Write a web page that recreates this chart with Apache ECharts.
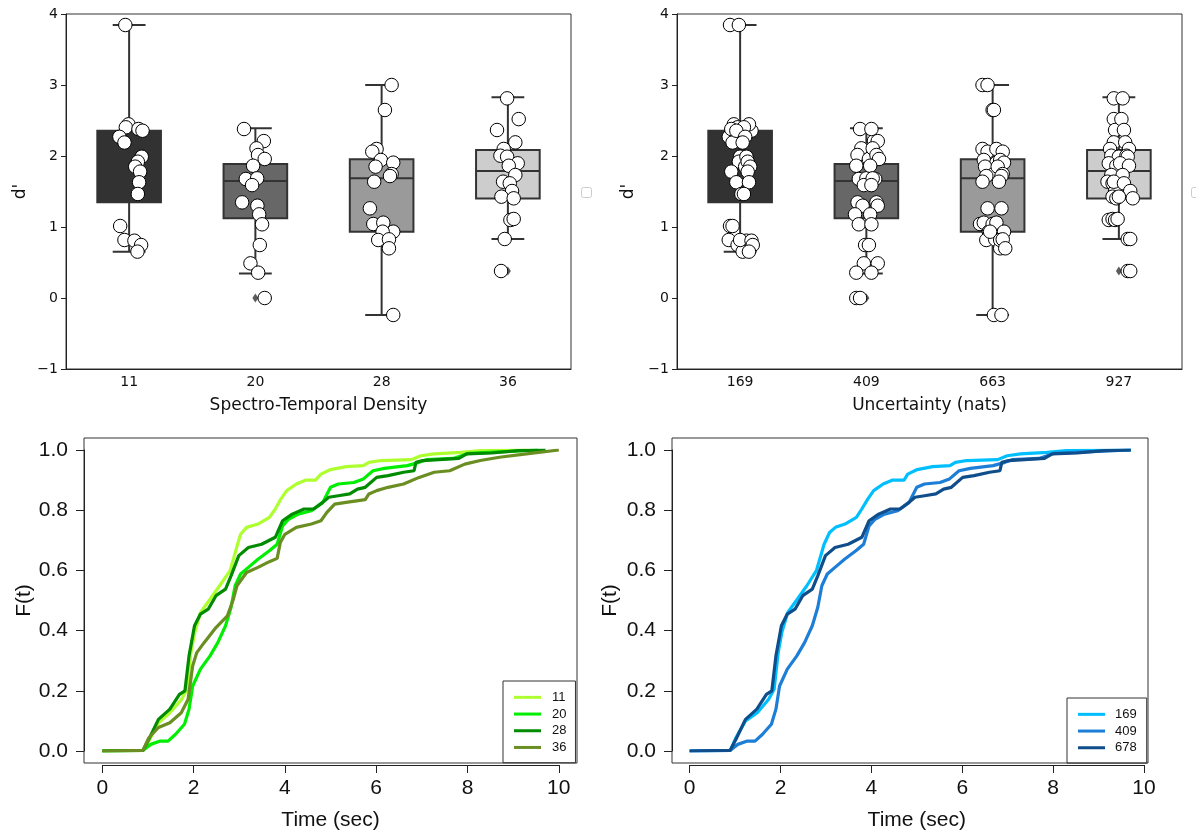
<!DOCTYPE html>
<html><head><meta charset="utf-8">
<script src="https://cdn.jsdelivr.net/npm/echarts@6/dist/echarts.min.js"></script>
<style>html,body{margin:0;padding:0;background:#fff}#c{width:1196px;height:834px}</style>
</head><body><div id="c"></div><script>
// ---------- Top panels: box + strip plots ----------
const catsDensity = ['11', '20', '28', '36'];
const catsUncert = ['169', '409', '663', '927'];
// box stats per category: [min whisker, Q1, median, Q3, max whisker]
const boxDensity = [
  [0.65, 1.35, 1.89, 2.355, 3.845],
  [0.345, 1.122, 1.647, 1.887, 2.39],
  [-0.239, 0.934, 1.688, 1.953, 3.0],
  [0.831, 1.402, 1.788, 2.085, 2.826]
];
const boxUncert = [
  [0.65, 1.35, 1.89, 2.355, 3.845],
  [0.345, 1.122, 1.647, 1.887, 2.39],
  [-0.239, 0.934, 1.688, 1.953, 3.0],
  [0.831, 1.402, 1.788, 2.085, 2.826]
];
// outliers (category index, value)
const flierCats = [1, 3];
const flierVals = [0.0, 0.38];
// subject d' values per category
const dp11 = [3.845, 2.446, 2.404, 2.38, 2.356, 2.27, 2.19, 1.99, 1.92, 1.85, 1.78, 1.63, 1.465, 1.014, 0.817, 0.807, 0.746, 0.653];
const dp20 = [2.38, 2.21, 2.108, 2.014, 1.958, 1.863, 1.676, 1.685, 1.59, 1.347, 1.30, 1.178, 1.038, 0.746, 0.488, 0.357, 0.0];
const dp28 = [3.0, 2.648, 2.099, 2.061, 1.944, 1.906, 1.85, 1.746, 1.718, 1.638, 1.263, 1.042, 1.061, 0.934, 0.934, 0.817, 0.826, 0.70, -0.239];
const dp36 = [2.812, 2.52, 2.366, 2.192, 2.099, 2.004, 1.99, 1.897, 1.863, 1.732, 1.638, 1.615, 1.507, 1.427, 1.404, 1.099, 1.113, 0.831, 0.38];
// strip jitter (category units)
const jit11 = [-0.03, -0.005, -0.026, 0.074, 0.106, -0.077, -0.037, 0.10, 0.069, 0.048, 0.087, 0.079, 0.069, -0.071, -0.037, 0.042, 0.095, 0.066];
const jit20 = [-0.09, 0.067, 0.009, 0.021, 0.074, -0.018, -0.076, 0.014, -0.026, -0.105, 0.016, 0.03, 0.053, 0.035, -0.039, 0.022, 0.074];
const jit28 = [0.079, 0.026, -0.04, -0.074, -0.006, 0.092, -0.048, 0.079, 0.066, -0.059, -0.093, -0.066, 0.013, 0.092, 0.008, -0.027, 0.058, 0.058, 0.092];
const jit36 = [-0.006, 0.086, -0.086, 0.059, -0.033, -0.059, -0.006, 0.078, 0.007, 0.059, -0.038, 0.015, 0.033, -0.051, 0.046, 0.02, 0.046, -0.025, -0.054];
// right panel: each value shown twice
const jit169a = [-0.08, -0.05, -0.02, 0.06, 0.09, -0.09, -0.06, 0.0, -0.01, 0.04, -0.07, -0.03, 0.01, -0.08, -0.09, 0.05, -0.02, 0.02];
const jit169b = [-0.01, 0.07, 0.03, -0.07, -0.03, 0.04, 0.02, 0.05, 0.06, 0.08, 0.06, 0.07, 0.03, -0.06, 0.0, 0.09, 0.1, 0.07];
const jit409a = [-0.05, 0.06, -0.04, -0.07, 0.02, -0.08, -0.06, 0.0, -0.02, -0.07, -0.03, -0.09, -0.06, -0.01, -0.02, -0.08, -0.08];
const jit409b = [0.04, 0.09, 0.05, 0.08, 0.1, 0.03, 0.07, 0.05, 0.04, 0.08, 0.09, 0.03, 0.04, 0.02, 0.09, 0.04, -0.05];
const jit663a = [-0.08, 0.0, -0.08, -0.04, -0.07, 0.03, -0.06, 0.01, -0.05, -0.08, -0.04, -0.1, -0.07, -0.03, 0.06, -0.05, 0.02, 0.06, 0.01];
const jit663b = [-0.04, 0.01, 0.03, 0.08, 0.06, 0.09, 0.04, 0.08, 0.07, 0.05, 0.07, 0.0, 0.03, 0.09, -0.02, 0.06, 0.08, 0.1, 0.07];
const jit927a = [-0.04, -0.04, -0.03, -0.04, -0.07, -0.06, 0.0, -0.08, -0.02, -0.06, -0.09, -0.05, -0.03, -0.05, -0.02, -0.08, -0.05, 0.07, 0.07];
const jit927b = [0.03, 0.02, 0.04, 0.05, 0.08, 0.06, 0.07, 0.01, 0.08, 0.03, -0.04, 0.04, 0.09, 0.0, 0.11, -0.03, -0.01, 0.09, 0.09];

// ---------- Bottom panels: ECDF of response time ----------
const ecdfNames1 = ['11', '20', '28', '36'];
const ecdf11 = [[0,0],[0.89,0.002],[1.02,0.033],[1.23,0.094],[1.48,0.127],[1.73,0.17],[1.86,0.205],[1.94,0.327],[2.02,0.39],[2.15,0.46],[2.36,0.504],[2.57,0.549],[2.8,0.599],[2.95,0.68],[3.03,0.72],[3.16,0.743],[3.41,0.754],[3.66,0.776],[3.79,0.804],[3.91,0.837],[4.04,0.865],[4.25,0.887],[4.46,0.9],[4.67,0.9],[4.79,0.92],[5.0,0.935],[5.34,0.945],[5.72,0.948],[5.84,0.959],[6.1,0.965],[6.77,0.968],[6.98,0.981],[7.27,0.987],[7.86,0.992],[8.28,0.998],[9.3,1.0]];
const ecdf20 = [[0,0],[0.89,0.002],[1.06,0.022],[1.27,0.033],[1.44,0.033],[1.6,0.055],[1.8,0.089],[1.9,0.139],[1.98,0.216],[2.15,0.272],[2.36,0.316],[2.53,0.36],[2.7,0.416],[2.82,0.477],[2.91,0.549],[3.03,0.588],[3.2,0.61],[3.41,0.637],[3.66,0.665],[3.83,0.687],[3.95,0.748],[4.08,0.77],[4.29,0.787],[4.58,0.798],[4.83,0.826],[5.0,0.876],[5.17,0.887],[5.51,0.892],[5.72,0.904],[5.93,0.931],[6.18,0.939],[6.68,0.948],[6.94,0.959],[7.1,0.968],[7.69,0.972],[8.03,0.989],[8.7,0.994],[9.54,1.0]];
const ecdf28 = [[0,0],[0.89,0.002],[1.02,0.039],[1.23,0.105],[1.48,0.139],[1.69,0.188],[1.81,0.2],[1.9,0.316],[2.02,0.416],[2.15,0.455],[2.32,0.471],[2.49,0.516],[2.7,0.538],[2.82,0.582],[2.99,0.649],[3.2,0.676],[3.49,0.687],[3.79,0.71],[3.95,0.765],[4.16,0.787],[4.42,0.804],[4.63,0.804],[4.83,0.826],[4.96,0.843],[5.17,0.848],[5.42,0.854],[5.59,0.87],[5.76,0.876],[6.01,0.909],[6.26,0.915],[6.6,0.926],[6.83,0.931],[6.87,0.959],[7.02,0.965],[7.81,0.972],[7.98,0.987],[8.53,0.99],[9.12,0.998],[9.71,1.0]];
const ecdf36 = [[0,0],[0.89,0.002],[1.02,0.044],[1.23,0.078],[1.48,0.094],[1.73,0.127],[1.88,0.172],[1.98,0.283],[2.07,0.327],[2.23,0.36],[2.49,0.41],[2.74,0.449],[2.86,0.499],[2.95,0.549],[3.16,0.593],[3.41,0.61],[3.66,0.629],[3.83,0.64],[3.9,0.693],[4.0,0.72],[4.25,0.743],[4.58,0.754],[4.79,0.765],[4.92,0.793],[5.09,0.82],[5.34,0.826],[5.76,0.835],[5.84,0.854],[6.01,0.865],[6.26,0.876],[6.6,0.887],[6.94,0.909],[7.27,0.926],[7.61,0.931],[7.94,0.953],[8.28,0.965],[8.7,0.976],[9.29,0.987],[10.0,1.0]];
const ecdfNames2 = ['169', '409', '678'];
const ecdf169 = [[0,0],[0.9,0.002],[1.02,0.044],[1.23,0.1],[1.49,0.127],[1.74,0.172],[1.86,0.205],[1.95,0.327],[2.03,0.394],[2.16,0.46],[2.37,0.504],[2.58,0.549],[2.79,0.599],[2.96,0.687],[3.08,0.726],[3.21,0.743],[3.42,0.754],[3.67,0.776],[3.79,0.804],[3.92,0.837],[4.05,0.865],[4.26,0.887],[4.47,0.9],[4.72,0.9],[4.8,0.92],[5.01,0.935],[5.35,0.945],[5.73,0.948],[5.85,0.959],[6.1,0.965],[6.78,0.968],[6.99,0.981],[7.28,0.987],[7.87,0.992],[8.29,0.998],[9.71,1.0]];
const ecdf409 = [[0,0],[0.89,0.002],[1.06,0.022],[1.27,0.033],[1.44,0.033],[1.6,0.055],[1.8,0.089],[1.9,0.139],[1.98,0.216],[2.15,0.272],[2.36,0.316],[2.53,0.36],[2.7,0.416],[2.82,0.477],[2.91,0.549],[3.03,0.588],[3.2,0.61],[3.41,0.637],[3.66,0.665],[3.83,0.687],[3.95,0.748],[4.08,0.77],[4.29,0.787],[4.58,0.798],[4.83,0.826],[5.0,0.876],[5.17,0.887],[5.51,0.892],[5.72,0.904],[5.93,0.931],[6.18,0.939],[6.68,0.948],[6.94,0.959],[7.1,0.968],[7.69,0.972],[8.03,0.989],[8.7,0.994],[9.71,1.0]];
const ecdf678 = [[0,0],[0.89,0.002],[1.02,0.039],[1.23,0.105],[1.48,0.139],[1.69,0.188],[1.81,0.2],[1.9,0.316],[2.02,0.416],[2.15,0.455],[2.32,0.471],[2.49,0.516],[2.7,0.538],[2.82,0.582],[2.99,0.649],[3.2,0.676],[3.49,0.687],[3.79,0.71],[3.95,0.765],[4.16,0.787],[4.42,0.804],[4.63,0.804],[4.83,0.826],[4.96,0.843],[5.17,0.848],[5.42,0.854],[5.59,0.87],[5.76,0.876],[6.01,0.909],[6.26,0.915],[6.6,0.926],[6.83,0.931],[6.87,0.959],[7.02,0.965],[7.81,0.972],[7.98,0.987],[8.53,0.99],[9.12,0.998],[9.71,1.0]];

const greenColors = ['#adff2f', '#00ee00', '#008b00', '#6b8e23'];
const blueColors = ['#00bfff', '#1c7ed6', '#104e8b'];
const boxFills = ['#323232', '#676767', '#9a9a9a', '#cdcdcd'];
const EDGE = '#333333';

const chart = echarts.init(document.getElementById('c'), null, {renderer: 'canvas'});

function boxRender(params, api) {
  const c = api.value(0);
  const pMin = api.coord([c, api.value(1)]);
  const pQ1 = api.coord([c, api.value(2)]);
  const pMed = api.coord([c, api.value(3)]);
  const pQ3 = api.coord([c, api.value(4)]);
  const pMax = api.coord([c, api.value(5)]);
  const bw = api.size([1, 0])[0];
  const half = bw * 0.252, cap = bw * 0.13;
  const x = pMed[0];
  const ls = {stroke: EDGE, lineWidth: 2};
  return {
    type: 'group',
    children: [
      {type: 'line', shape: {x1: x, y1: pMax[1], x2: x, y2: pQ3[1]}, style: ls},
      {type: 'line', shape: {x1: x, y1: pQ1[1], x2: x, y2: pMin[1]}, style: ls},
      {type: 'line', shape: {x1: x - cap, y1: pMax[1], x2: x + cap, y2: pMax[1]}, style: ls},
      {type: 'line', shape: {x1: x - cap, y1: pMin[1], x2: x + cap, y2: pMin[1]}, style: ls},
      {type: 'rect', shape: {x: x - half, y: pQ3[1], width: 2 * half, height: pQ1[1] - pQ3[1]},
        style: {fill: boxFills[c], stroke: EDGE, lineWidth: 2}},
      {type: 'line', shape: {x1: x - half, y1: pMed[1], x2: x + half, y2: pMed[1]}, style: ls}
    ]
  };
}

function stripData(groups, jitters) {
  const out = [];
  groups.forEach((vals, i) => {
    jitters[i].forEach(jit => {
      vals.forEach((v, k) => out.push([i + jit[k], v]));
    });
  });
  return out;
}

const leftStrip = stripData([dp11, dp20, dp28, dp36], [[jit11], [jit20], [jit28], [jit36]]);
const rightStrip = stripData([dp11, dp20, dp28, dp36], [[jit169a, jit169b], [jit409a, jit409b], [jit663a, jit663b], [jit927a, jit927b]]);
const flierData = flierCats.map((c, i) => [c, flierVals[i]]);

const topFont = 'DejaVu Sans';
const botFont = 'Liberation Sans';
const minusFmt = v => (v < 0 ? '\u2212' + Math.abs(v) : String(v));

function topCatAxis(grid, cats, name) {
  return {
    type: 'category', gridIndex: grid, data: cats, boundaryGap: true,
    axisLine: {onZero: false, lineStyle: {color: '#222', width: 1}},
    axisTick: {alignWithLabel: true, length: 5, lineStyle: {color: '#222'}},
    axisLabel: {fontFamily: topFont, fontSize: 14, color: '#111', margin: 6},
    name: name, nameLocation: 'middle', nameGap: 28,
    nameTextStyle: {fontFamily: topFont, fontSize: 17, color: '#111'},
    splitLine: {show: false}
  };
}
function hiddenVal(grid, min, max) {
  return {type: 'value', gridIndex: grid, min: min, max: max, show: false, splitLine: {show: false},
    axisLine: {onZero: false}};
}
function topYAxis(grid, gap) {
  return {
    type: 'value', gridIndex: grid, min: -1, max: 4, interval: 1,
    axisLine: {show: true, onZero: false, lineStyle: {color: '#222'}},
    axisTick: {show: true, length: 5, lineStyle: {color: '#222'}},
    axisLabel: {fontFamily: topFont, fontSize: 14, color: '#111', margin: 8, formatter: minusFmt},
    splitLine: {show: false},
    name: "d'", nameLocation: 'middle', nameGap: gap,
    nameTextStyle: {fontFamily: topFont, fontSize: 17, color: '#111'}
  };
}
function botXAxis(grid) {
  return {
    type: 'value', gridIndex: grid, min: 0, max: 10, interval: 2, offset: 14,
    axisLine: {show: true, onZero: false, lineStyle: {color: '#222'}},
    axisTick: {show: true, length: 8, lineStyle: {color: '#222'}},
    axisLabel: {fontFamily: botFont, fontSize: 21, color: '#111', margin: 13},
    splitLine: {show: false},
    name: 'Time (sec)', nameLocation: 'middle', nameGap: 45,
    nameTextStyle: {fontFamily: botFont, fontSize: 21, color: '#111'}
  };
}
function botYAxis(grid, off, gap) {
  return {
    type: 'value', gridIndex: grid, min: 0, max: 1, interval: 0.2, offset: off,
    axisLine: {show: true, onZero: false, lineStyle: {color: '#222'}},
    axisTick: {show: true, length: 8, lineStyle: {color: '#222'}},
    axisLabel: {fontFamily: botFont, fontSize: 21, color: '#111', margin: 16, formatter: v => v.toFixed(1)},
    splitLine: {show: false},
    name: 'F(t)', nameLocation: 'middle', nameGap: gap,
    nameTextStyle: {fontFamily: botFont, fontSize: 21, color: '#111'}
  };
}

function lineSeries(name, data, color, xi, yi, z) {
  return {
    type: 'line', name: name, data: data, xAxisIndex: xi, yAxisIndex: yi,
    showSymbol: false, symbol: 'none', smooth: false, z: z,
    lineStyle: {color: color, width: 3.2}, itemStyle: {color: color},
    emphasis: {disabled: true}
  };
}

const frameBorder = {show: true, borderColor: '#333', borderWidth: 1, backgroundColor: 'transparent'};

const option = {
  animation: false,
  backgroundColor: '#ffffff',
  grid: [
    Object.assign({left: 66, top: 14, width: 505, height: 355}, frameBorder),
    Object.assign({left: 677, top: 14, width: 505, height: 355}, frameBorder),
    Object.assign({left: 84, top: 438, width: 493, height: 325}, frameBorder),
    {left: 102.3, top: 450, width: 456.5, height: 301},
    Object.assign({left: 672, top: 438, width: 476, height: 325}, frameBorder),
    {left: 689.6, top: 450, width: 454.4, height: 301}
  ],
  xAxis: [
    topCatAxis(0, catsDensity, 'Spectro-Temporal Density'),
    hiddenVal(0, -0.5, 3.5),
    topCatAxis(1, catsUncert, 'Uncertainty (nats)'),
    hiddenVal(1, -0.5, 3.5),
    hiddenVal(2, 0, 1),
    botXAxis(3),
    hiddenVal(4, 0, 1),
    botXAxis(5)
  ],
  yAxis: [
    topYAxis(0, 37),
    topYAxis(1, 40),
    hiddenVal(2, 0, 1),
    botYAxis(3, 18.3, 49),
    hiddenVal(4, 0, 1),
    botYAxis(5, 17.6, 51)
  ],
  legend: [
    {
      data: ecdfNames1, left: 503, top: 681, orient: 'vertical', icon: 'rect',
      itemWidth: 27, itemHeight: 3, itemGap: 0, padding: [8, 9, 7, 11],
      borderColor: '#333', borderWidth: 1, borderRadius: 0, selectedMode: false,
      textStyle: {fontFamily: botFont, fontSize: 13, color: '#111', lineHeight: 16.7, padding: [0, 0, 0, 6]}
    },
    {
      data: ecdfNames2, left: 1067, top: 698, orient: 'vertical', icon: 'rect',
      itemWidth: 27, itemHeight: 3, itemGap: 0, padding: [8, 10, 7, 11],
      borderColor: '#333', borderWidth: 1, borderRadius: 0, selectedMode: false,
      textStyle: {fontFamily: botFont, fontSize: 13, color: '#111', lineHeight: 16.7, padding: [0, 0, 0, 5]}
    }
  ],
  graphic: [
    {type: 'rect', left: 581, top: 187, shape: {width: 10, height: 10, r: 2}, style: {fill: '#fff', stroke: '#cccccc', lineWidth: 1}},
    {type: 'rect', left: 1191, top: 187, shape: {width: 10, height: 10, r: 2}, style: {fill: '#fff', stroke: '#cccccc', lineWidth: 1}}
  ],
  series: [
    {type: 'custom', xAxisIndex: 0, yAxisIndex: 0, renderItem: boxRender, z: 2,
      data: boxDensity.map((b, i) => [i].concat(b))},
    {type: 'scatter', xAxisIndex: 1, yAxisIndex: 0, data: flierData, symbol: 'diamond', symbolSize: [6, 9],
      itemStyle: {color: EDGE}, z: 3},
    {type: 'scatter', xAxisIndex: 1, yAxisIndex: 0, data: leftStrip, symbol: 'circle', symbolSize: 13.5,
      itemStyle: {color: '#ffffff', borderColor: '#000', borderWidth: 1, opacity: 1}, z: 4},
    {type: 'custom', xAxisIndex: 2, yAxisIndex: 1, renderItem: boxRender, z: 2,
      data: boxUncert.map((b, i) => [i].concat(b))},
    {type: 'scatter', xAxisIndex: 3, yAxisIndex: 1, data: flierData, symbol: 'diamond', symbolSize: [6, 9],
      itemStyle: {color: EDGE}, z: 3},
    {type: 'scatter', xAxisIndex: 3, yAxisIndex: 1, data: rightStrip, symbol: 'circle', symbolSize: 13.5,
      itemStyle: {color: '#ffffff', borderColor: '#000', borderWidth: 1, opacity: 1}, z: 4},

    lineSeries('11', ecdf11, greenColors[0], 5, 3, 5),
    lineSeries('20', ecdf20, greenColors[1], 5, 3, 6),
    lineSeries('28', ecdf28, greenColors[2], 5, 3, 7),
    lineSeries('36', ecdf36, greenColors[3], 5, 3, 8),
    lineSeries('169', ecdf169, blueColors[0], 7, 5, 5),
    lineSeries('409', ecdf409, blueColors[1], 7, 5, 6),
    lineSeries('678', ecdf678, blueColors[2], 7, 5, 7)
  ]
};
chart.setOption(option);
</script></body></html>
